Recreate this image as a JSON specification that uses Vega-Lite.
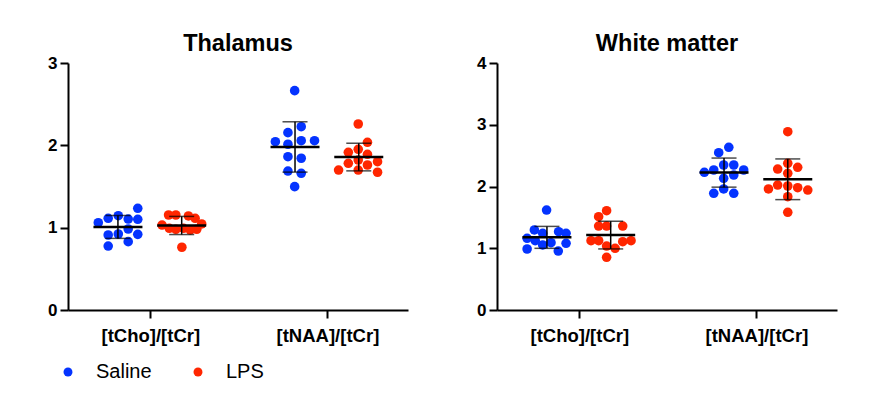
{
  "$schema": "https://vega.github.io/schema/vega-lite/v6.json",
  "padding": {"left": 47, "top": 31, "right": 5, "bottom": 5},
  "datasets": {
    "pts": [
      {"region": "Thalamus", "ratio": "[tCho]/[tCr]", "group": "Saline", "center": 0.817, "pos": 0.929, "value": 1.235},
      {"region": "Thalamus", "ratio": "[tCho]/[tCr]", "group": "Saline", "center": 0.817, "pos": 0.706, "value": 1.060},
      {"region": "Thalamus", "ratio": "[tCho]/[tCr]", "group": "Saline", "center": 0.817, "pos": 0.762, "value": 1.114},
      {"region": "Thalamus", "ratio": "[tCho]/[tCr]", "group": "Saline", "center": 0.817, "pos": 0.819, "value": 1.145},
      {"region": "Thalamus", "ratio": "[tCho]/[tCr]", "group": "Saline", "center": 0.817, "pos": 0.875, "value": 1.105},
      {"region": "Thalamus", "ratio": "[tCho]/[tCr]", "group": "Saline", "center": 0.817, "pos": 0.929, "value": 1.102},
      {"region": "Thalamus", "ratio": "[tCho]/[tCr]", "group": "Saline", "center": 0.817, "pos": 0.875, "value": 0.984},
      {"region": "Thalamus", "ratio": "[tCho]/[tCr]", "group": "Saline", "center": 0.817, "pos": 0.762, "value": 0.911},
      {"region": "Thalamus", "ratio": "[tCho]/[tCr]", "group": "Saline", "center": 0.817, "pos": 0.819, "value": 0.923},
      {"region": "Thalamus", "ratio": "[tCho]/[tCr]", "group": "Saline", "center": 0.817, "pos": 0.929, "value": 0.919},
      {"region": "Thalamus", "ratio": "[tCho]/[tCr]", "group": "Saline", "center": 0.817, "pos": 0.875, "value": 0.830},
      {"region": "Thalamus", "ratio": "[tCho]/[tCr]", "group": "Saline", "center": 0.817, "pos": 0.762, "value": 0.777},
      {"region": "Thalamus", "ratio": "[tCho]/[tCr]", "group": "LPS", "center": 1.177, "pos": 1.103, "value": 1.154},
      {"region": "Thalamus", "ratio": "[tCho]/[tCr]", "group": "LPS", "center": 1.177, "pos": 1.144, "value": 1.154},
      {"region": "Thalamus", "ratio": "[tCho]/[tCr]", "group": "LPS", "center": 1.177, "pos": 1.215, "value": 1.142},
      {"region": "Thalamus", "ratio": "[tCho]/[tCr]", "group": "LPS", "center": 1.177, "pos": 1.253, "value": 1.114},
      {"region": "Thalamus", "ratio": "[tCho]/[tCr]", "group": "LPS", "center": 1.177, "pos": 1.066, "value": 1.032},
      {"region": "Thalamus", "ratio": "[tCho]/[tCr]", "group": "LPS", "center": 1.177, "pos": 1.107, "value": 0.992},
      {"region": "Thalamus", "ratio": "[tCho]/[tCr]", "group": "LPS", "center": 1.177, "pos": 1.144, "value": 0.980},
      {"region": "Thalamus", "ratio": "[tCho]/[tCr]", "group": "LPS", "center": 1.177, "pos": 1.187, "value": 0.992},
      {"region": "Thalamus", "ratio": "[tCho]/[tCr]", "group": "LPS", "center": 1.177, "pos": 1.225, "value": 0.972},
      {"region": "Thalamus", "ratio": "[tCho]/[tCr]", "group": "LPS", "center": 1.177, "pos": 1.262, "value": 0.980},
      {"region": "Thalamus", "ratio": "[tCho]/[tCr]", "group": "LPS", "center": 1.177, "pos": 1.290, "value": 1.045},
      {"region": "Thalamus", "ratio": "[tCho]/[tCr]", "group": "LPS", "center": 1.177, "pos": 1.178, "value": 0.762},
      {"region": "Thalamus", "ratio": "[tNAA]/[tCr]", "group": "Saline", "center": 1.817, "pos": 1.815, "value": 2.664},
      {"region": "Thalamus", "ratio": "[tNAA]/[tCr]", "group": "Saline", "center": 1.817, "pos": 1.852, "value": 2.226},
      {"region": "Thalamus", "ratio": "[tNAA]/[tCr]", "group": "Saline", "center": 1.817, "pos": 1.777, "value": 2.154},
      {"region": "Thalamus", "ratio": "[tNAA]/[tCr]", "group": "Saline", "center": 1.817, "pos": 1.706, "value": 2.044},
      {"region": "Thalamus", "ratio": "[tNAA]/[tCr]", "group": "Saline", "center": 1.817, "pos": 1.777, "value": 2.013},
      {"region": "Thalamus", "ratio": "[tNAA]/[tCr]", "group": "Saline", "center": 1.817, "pos": 1.852, "value": 2.056},
      {"region": "Thalamus", "ratio": "[tNAA]/[tCr]", "group": "Saline", "center": 1.817, "pos": 1.927, "value": 2.056},
      {"region": "Thalamus", "ratio": "[tNAA]/[tCr]", "group": "Saline", "center": 1.817, "pos": 1.777, "value": 1.862},
      {"region": "Thalamus", "ratio": "[tNAA]/[tCr]", "group": "Saline", "center": 1.817, "pos": 1.852, "value": 1.843},
      {"region": "Thalamus", "ratio": "[tNAA]/[tCr]", "group": "Saline", "center": 1.817, "pos": 1.777, "value": 1.688},
      {"region": "Thalamus", "ratio": "[tNAA]/[tCr]", "group": "Saline", "center": 1.817, "pos": 1.852, "value": 1.660},
      {"region": "Thalamus", "ratio": "[tNAA]/[tCr]", "group": "Saline", "center": 1.817, "pos": 1.815, "value": 1.498},
      {"region": "Thalamus", "ratio": "[tNAA]/[tCr]", "group": "LPS", "center": 2.177, "pos": 2.174, "value": 2.259},
      {"region": "Thalamus", "ratio": "[tNAA]/[tCr]", "group": "LPS", "center": 2.177, "pos": 2.226, "value": 2.037},
      {"region": "Thalamus", "ratio": "[tNAA]/[tCr]", "group": "LPS", "center": 2.177, "pos": 2.118, "value": 1.915},
      {"region": "Thalamus", "ratio": "[tNAA]/[tCr]", "group": "LPS", "center": 2.177, "pos": 2.174, "value": 1.952},
      {"region": "Thalamus", "ratio": "[tNAA]/[tCr]", "group": "LPS", "center": 2.177, "pos": 2.226, "value": 1.891},
      {"region": "Thalamus", "ratio": "[tNAA]/[tCr]", "group": "LPS", "center": 2.177, "pos": 2.118, "value": 1.782},
      {"region": "Thalamus", "ratio": "[tNAA]/[tCr]", "group": "LPS", "center": 2.177, "pos": 2.174, "value": 1.822},
      {"region": "Thalamus", "ratio": "[tNAA]/[tCr]", "group": "LPS", "center": 2.177, "pos": 2.226, "value": 1.761},
      {"region": "Thalamus", "ratio": "[tNAA]/[tCr]", "group": "LPS", "center": 2.177, "pos": 2.283, "value": 1.801},
      {"region": "Thalamus", "ratio": "[tNAA]/[tCr]", "group": "LPS", "center": 2.177, "pos": 2.063, "value": 1.700},
      {"region": "Thalamus", "ratio": "[tNAA]/[tCr]", "group": "LPS", "center": 2.177, "pos": 2.174, "value": 1.700},
      {"region": "Thalamus", "ratio": "[tNAA]/[tCr]", "group": "LPS", "center": 2.177, "pos": 2.283, "value": 1.673},
      {"region": "White matter", "ratio": "[tCho]/[tCr]", "group": "Saline", "center": 0.817, "pos": 0.815, "value": 1.619},
      {"region": "White matter", "ratio": "[tCho]/[tCr]", "group": "Saline", "center": 0.817, "pos": 0.746, "value": 1.296},
      {"region": "White matter", "ratio": "[tCho]/[tCr]", "group": "Saline", "center": 0.817, "pos": 0.793, "value": 1.242},
      {"region": "White matter", "ratio": "[tCho]/[tCr]", "group": "Saline", "center": 0.817, "pos": 0.883, "value": 1.268},
      {"region": "White matter", "ratio": "[tCho]/[tCr]", "group": "Saline", "center": 0.817, "pos": 0.925, "value": 1.242},
      {"region": "White matter", "ratio": "[tCho]/[tCr]", "group": "Saline", "center": 0.817, "pos": 0.705, "value": 1.161},
      {"region": "White matter", "ratio": "[tCho]/[tCr]", "group": "Saline", "center": 0.817, "pos": 0.751, "value": 1.122},
      {"region": "White matter", "ratio": "[tCho]/[tCr]", "group": "Saline", "center": 0.817, "pos": 0.793, "value": 1.053},
      {"region": "White matter", "ratio": "[tCho]/[tCr]", "group": "Saline", "center": 0.817, "pos": 0.840, "value": 1.090},
      {"region": "White matter", "ratio": "[tCho]/[tCr]", "group": "Saline", "center": 0.817, "pos": 0.925, "value": 1.080},
      {"region": "White matter", "ratio": "[tCho]/[tCr]", "group": "Saline", "center": 0.817, "pos": 0.705, "value": 0.988},
      {"region": "White matter", "ratio": "[tCho]/[tCr]", "group": "Saline", "center": 0.817, "pos": 0.881, "value": 0.955},
      {"region": "White matter", "ratio": "[tCho]/[tCr]", "group": "LPS", "center": 1.177, "pos": 1.154, "value": 1.608},
      {"region": "White matter", "ratio": "[tCho]/[tCr]", "group": "LPS", "center": 1.177, "pos": 1.109, "value": 1.511},
      {"region": "White matter", "ratio": "[tCho]/[tCr]", "group": "LPS", "center": 1.177, "pos": 1.109, "value": 1.360},
      {"region": "White matter", "ratio": "[tCho]/[tCr]", "group": "LPS", "center": 1.177, "pos": 1.154, "value": 1.360},
      {"region": "White matter", "ratio": "[tCho]/[tCr]", "group": "LPS", "center": 1.177, "pos": 1.245, "value": 1.360},
      {"region": "White matter", "ratio": "[tCho]/[tCr]", "group": "LPS", "center": 1.177, "pos": 1.066, "value": 1.122},
      {"region": "White matter", "ratio": "[tCho]/[tCr]", "group": "LPS", "center": 1.177, "pos": 1.109, "value": 1.122},
      {"region": "White matter", "ratio": "[tCho]/[tCr]", "group": "LPS", "center": 1.177, "pos": 1.154, "value": 1.036},
      {"region": "White matter", "ratio": "[tCho]/[tCr]", "group": "LPS", "center": 1.177, "pos": 1.202, "value": 0.999},
      {"region": "White matter", "ratio": "[tCho]/[tCr]", "group": "LPS", "center": 1.177, "pos": 1.245, "value": 1.106},
      {"region": "White matter", "ratio": "[tCho]/[tCr]", "group": "LPS", "center": 1.177, "pos": 1.292, "value": 1.122},
      {"region": "White matter", "ratio": "[tCho]/[tCr]", "group": "LPS", "center": 1.177, "pos": 1.154, "value": 0.853},
      {"region": "White matter", "ratio": "[tNAA]/[tCr]", "group": "Saline", "center": 1.817, "pos": 1.844, "value": 2.635},
      {"region": "White matter", "ratio": "[tNAA]/[tCr]", "group": "Saline", "center": 1.817, "pos": 1.787, "value": 2.547},
      {"region": "White matter", "ratio": "[tNAA]/[tCr]", "group": "Saline", "center": 1.817, "pos": 1.706, "value": 2.230},
      {"region": "White matter", "ratio": "[tNAA]/[tCr]", "group": "Saline", "center": 1.817, "pos": 1.759, "value": 2.267},
      {"region": "White matter", "ratio": "[tNAA]/[tCr]", "group": "Saline", "center": 1.817, "pos": 1.815, "value": 2.348},
      {"region": "White matter", "ratio": "[tNAA]/[tCr]", "group": "Saline", "center": 1.817, "pos": 1.872, "value": 2.348},
      {"region": "White matter", "ratio": "[tNAA]/[tCr]", "group": "Saline", "center": 1.817, "pos": 1.928, "value": 2.267},
      {"region": "White matter", "ratio": "[tNAA]/[tCr]", "group": "Saline", "center": 1.817, "pos": 1.815, "value": 2.133},
      {"region": "White matter", "ratio": "[tNAA]/[tCr]", "group": "Saline", "center": 1.817, "pos": 1.872, "value": 2.186},
      {"region": "White matter", "ratio": "[tNAA]/[tCr]", "group": "Saline", "center": 1.817, "pos": 1.815, "value": 1.960},
      {"region": "White matter", "ratio": "[tNAA]/[tCr]", "group": "Saline", "center": 1.817, "pos": 1.759, "value": 1.890},
      {"region": "White matter", "ratio": "[tNAA]/[tCr]", "group": "Saline", "center": 1.817, "pos": 1.872, "value": 1.890},
      {"region": "White matter", "ratio": "[tNAA]/[tCr]", "group": "LPS", "center": 2.177, "pos": 2.177, "value": 2.887},
      {"region": "White matter", "ratio": "[tNAA]/[tCr]", "group": "LPS", "center": 2.177, "pos": 2.177, "value": 2.376},
      {"region": "White matter", "ratio": "[tNAA]/[tCr]", "group": "LPS", "center": 2.177, "pos": 2.120, "value": 2.283},
      {"region": "White matter", "ratio": "[tNAA]/[tCr]", "group": "LPS", "center": 2.177, "pos": 2.233, "value": 2.311},
      {"region": "White matter", "ratio": "[tNAA]/[tCr]", "group": "LPS", "center": 2.177, "pos": 2.177, "value": 2.214},
      {"region": "White matter", "ratio": "[tNAA]/[tCr]", "group": "LPS", "center": 2.177, "pos": 2.068, "value": 1.960},
      {"region": "White matter", "ratio": "[tNAA]/[tCr]", "group": "LPS", "center": 2.177, "pos": 2.120, "value": 2.024},
      {"region": "White matter", "ratio": "[tNAA]/[tCr]", "group": "LPS", "center": 2.177, "pos": 2.177, "value": 2.008},
      {"region": "White matter", "ratio": "[tNAA]/[tCr]", "group": "LPS", "center": 2.177, "pos": 2.233, "value": 1.981},
      {"region": "White matter", "ratio": "[tNAA]/[tCr]", "group": "LPS", "center": 2.177, "pos": 2.290, "value": 1.943},
      {"region": "White matter", "ratio": "[tNAA]/[tCr]", "group": "LPS", "center": 2.177, "pos": 2.177, "value": 1.835},
      {"region": "White matter", "ratio": "[tNAA]/[tCr]", "group": "LPS", "center": 2.177, "pos": 2.177, "value": 1.582}
    ]
  },
  "data": {"name": "pts"},
  "spacing": 68,
  "hconcat": [
    {
      "title": "Thalamus",
      "width": 340,
      "height": 247,
      "transform": [{"filter": "datum.region == 'Thalamus'"}],
      "encoding": {
        "x": {"type": "quantitative", "scale": {"domain": [0.535, 2.455]},
          "axis": {"title": null, "values": [1, 2], "labelExpr": "datum.value == 1 ? '[tCho]/[tCr]' : '[tNAA]/[tCr]'"}},
        "y": {"type": "quantitative", "scale": {"domain": [0, 3]},
          "axis": {"title": null, "values": [0, 1, 2, 3]}}
      },
      "layer": [
        {
          "mark": {"type": "circle", "size": 92, "opacity": 1},
          "encoding": {
            "x": {"field": "pos", "type": "quantitative"},
            "y": {"field": "value", "type": "quantitative"},
            "color": {"field": "group", "type": "nominal", "scale": {"domain": ["Saline", "LPS"], "range": ["#0433FF", "#FF2600"]}}
          }
        },
        {
          "mark": {"type": "errorbar", "extent": "stdev", "orient": "vertical", "color": "black", "thickness": 1.5, "ticks": {"size": 25, "thickness": 1.5, "color": "black"}},
          "encoding": {
            "x": {"field": "center", "type": "quantitative"},
            "y": {"field": "value", "type": "quantitative"}
          }
        },
        {
          "mark": {"type": "tick", "orient": "horizontal", "size": 49, "thickness": 2.5, "color": "black"},
          "encoding": {
            "x": {"field": "center", "type": "quantitative"},
            "y": {"field": "value", "aggregate": "mean", "type": "quantitative"}
          }
        }
      ]
    },
    {
      "title": "White matter",
      "width": 340,
      "height": 247,
      "transform": [{"filter": "datum.region == 'White matter'"}],
      "encoding": {
        "x": {"type": "quantitative", "scale": {"domain": [0.535, 2.455]},
          "axis": {"title": null, "values": [1, 2], "labelExpr": "datum.value == 1 ? '[tCho]/[tCr]' : '[tNAA]/[tCr]'"}},
        "y": {"type": "quantitative", "scale": {"domain": [0, 4]},
          "axis": {"title": null, "values": [0, 1, 2, 3, 4]}}
      },
      "layer": [
        {
          "mark": {"type": "circle", "size": 92, "opacity": 1},
          "encoding": {
            "x": {"field": "pos", "type": "quantitative"},
            "y": {"field": "value", "type": "quantitative"},
            "color": {"field": "group", "type": "nominal", "scale": {"domain": ["Saline", "LPS"], "range": ["#0433FF", "#FF2600"]}}
          }
        },
        {
          "mark": {"type": "errorbar", "extent": "stdev", "orient": "vertical", "color": "black", "thickness": 1.5, "ticks": {"size": 25, "thickness": 1.5, "color": "black"}},
          "encoding": {
            "x": {"field": "center", "type": "quantitative"},
            "y": {"field": "value", "type": "quantitative"}
          }
        },
        {
          "mark": {"type": "tick", "orient": "horizontal", "size": 49, "thickness": 2.5, "color": "black"},
          "encoding": {
            "x": {"field": "center", "type": "quantitative"},
            "y": {"field": "value", "aggregate": "mean", "type": "quantitative"}
          }
        }
      ]
    }
  ],
  "resolve": {"scale": {"color": "shared"}},
  "config": {
    "font": "Liberation Sans",
    "view": {"stroke": null},
    "axis": {
      "grid": false,
      "domainColor": "black",
      "domainWidth": 2,
      "tickColor": "black",
      "tickWidth": 2,
      "tickSize": 8,
      "labelFont": "Liberation Sans",
      "labelFontWeight": "bold",
      "labelColor": "black"
    },
    "axisX": {"labelFontSize": 18.5, "labelPadding": 8},
    "axisY": {"labelFontSize": 17, "labelPadding": 3},
    "title": {"fontSize": 23.5, "fontWeight": "bold", "color": "black", "anchor": "middle", "offset": 4, "dy": 5, "font": "Liberation Sans"},
    "legend": {
      "orient": "none",
      "legendX": -10,
      "legendY": 299,
      "direction": "horizontal",
      "title": null,
      "padding": 0,
      "symbolType": "circle",
      "symbolSize": 80,
      "symbolStrokeWidth": 0,
      "labelFontSize": 20,
      "labelFont": "Liberation Sans",
      "labelColor": "black",
      "labelOffset": 18,
      "columnPadding": 36
    }
  }
}
